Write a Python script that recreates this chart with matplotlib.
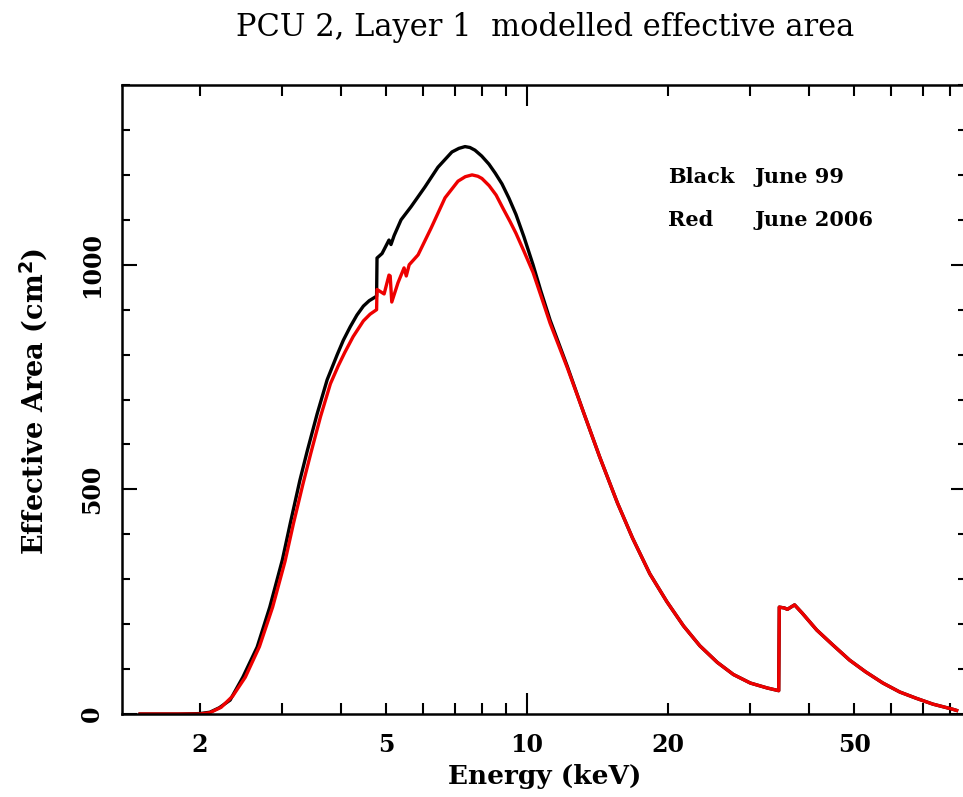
import numpy as np
import matplotlib
matplotlib.use("Agg")
import matplotlib.pyplot as plt

# ------------------------------
# Data (energy in keV, area in cm^2)
# ------------------------------
energy_99 = [1.49, 1.80, 2.00, 2.10, 2.20, 2.32, 2.47, 2.65, 2.82, 3.00, 3.12,
             3.27, 3.39, 3.56, 3.74, 3.93, 4.05, 4.19, 4.33, 4.47, 4.60, 4.77,
             4.78, 4.90, 5.07, 5.12, 5.20, 5.38, 5.65, 6.05, 6.45, 6.91, 7.15,
             7.37, 7.55, 7.74, 8.00, 8.29, 8.55, 8.84, 9.15, 9.47, 9.85, 10.3,
             10.7, 11.2, 12.2, 13.2, 14.3, 15.6, 16.8, 18.3, 19.9, 21.6, 23.4,
             25.5, 27.6, 30.0, 32.6, 34.5, 34.6, 35.5, 36.0, 37.3, 38.7, 41.6,
             45.0, 48.9, 52.9, 57.6, 62.6, 67.9, 73.7, 81.0, 82.8]
area_99 = [0, 0, 1, 4, 14, 31, 82, 149, 238, 343, 425,
           520, 585, 668, 744, 800, 832, 862, 888, 908, 920, 930,
           1015, 1025, 1055, 1045, 1065, 1100, 1129, 1173, 1217, 1251, 1259,
           1263, 1261, 1255, 1242, 1224, 1204, 1180, 1148, 1112, 1062, 1000,
           942, 877, 773, 672, 572, 470, 392, 312, 250, 196, 152,
           115, 88, 69, 58, 52, 238, 236, 233, 243, 225, 187,
           154, 120, 94, 69, 49, 35, 22, 11, 8]

energy_06 = [1.49, 1.80, 2.00, 2.10, 2.22, 2.35, 2.50, 2.68, 2.86, 3.04, 3.17,
             3.32, 3.45, 3.62, 3.80, 3.95, 4.08, 4.25, 4.47, 4.62, 4.77, 4.78,
             4.95, 5.07, 5.10, 5.14, 5.30, 5.46, 5.52, 5.60, 5.85, 6.24, 6.68,
             7.12, 7.38, 7.63, 7.85, 8.01, 8.30, 8.59, 8.90, 9.20, 9.47, 9.85,
             10.3, 10.7, 11.2, 12.2, 13.2, 14.3, 15.6, 16.8, 18.3, 19.9, 21.6,
             23.4, 25.5, 27.6, 30.0, 32.6, 34.5, 34.6, 35.5, 36.0, 37.3, 38.7,
             41.6, 45.0, 48.9, 52.9, 57.6, 62.6, 67.9, 73.7, 81.0, 82.8]
area_06 = [0, 0, 0, 3, 15, 40, 82, 150, 238, 340, 425,
           512, 580, 662, 735, 775, 805, 840, 875, 890, 900, 945,
           935, 977, 975, 917, 960, 993, 975, 1000, 1022, 1082, 1149,
           1186, 1196, 1200, 1197, 1192, 1176, 1155, 1124, 1096, 1070, 1030,
           983, 932, 870, 770, 672, 572, 470, 392, 312, 250, 196,
           152, 115, 88, 69, 58, 52, 238, 236, 233, 243, 225,
           187, 154, 120, 94, 69, 49, 35, 22, 11, 8]

major_x = [10]
minor_x = [2, 3, 4, 5, 6, 7, 8, 9, 20, 30, 40, 50, 60, 70, 80]
minor_x_labels = ["2", "", "", "5", "", "", "", "", "20", "", "", "50", "", "", ""]

# ------------------------------
# Figure
# ------------------------------
fig = plt.figure(figsize=(9.63, 7.97), dpi=100)
ax = fig.add_axes([0.1267, 0.1041, 0.8764, 0.7892])

ax.plot(energy_99, area_99, color="black", lw=2.4)
ax.plot(energy_06, area_06, color="#ee0000", lw=2.4)

ax.set_xscale("log")
ax.set_xlim(1.363, 86.7)
ax.set_ylim(0, 1400)

font = dict(family="DejaVu Serif", weight="bold")

ax.set_xticks(major_x, labels=["10"])
ax.set_xticks(minor_x, labels=minor_x_labels, minor=True)
ax.set_yticks([0, 500, 1000], labels=["0", "500", "1000"])
ax.set_yticks(np.arange(0, 1401, 100), minor=True)

for lab in ax.get_xticklabels(which="both"):
    lab.set_fontfamily("DejaVu Serif")
    lab.set_fontweight("bold")
    lab.set_fontsize(17)
for lab in ax.get_yticklabels():
    lab.set_fontfamily("DejaVu Serif")
    lab.set_fontweight("bold")
    lab.set_fontsize(17)
    lab.set_rotation(90)
    lab.set_va("center")

ax.tick_params(axis="both", which="both", direction="in", top=True, right=True,
               width=1.5, color="black")
ax.tick_params(axis="x", which="major", length=15, pad=14)
ax.tick_params(axis="x", which="minor", length=8, pad=14)
ax.tick_params(axis="y", which="major", length=11, pad=13)
ax.tick_params(axis="y", which="minor", length=6, pad=13)
for s in ax.spines.values():
    s.set_linewidth(1.8)

fig.text(0.566, 0.966, "PCU 2, Layer 1  modelled effective area",
         ha="center", va="center", fontsize=22, family="DejaVu Serif")
fig.text(0.566, 0.026, "Energy (keV)", ha="center", va="center", fontsize=19, **font)
fig.text(0.035, 0.497, "Effective Area (cm$^\\mathbf{2}$)", ha="center", va="center",
         rotation=90, fontsize=19.5, **font)

fig.text(0.694, 0.778, "Black", ha="left", va="center", fontsize=15, **font)
fig.text(0.784, 0.778, "June 99", ha="left", va="center", fontsize=15, **font)
fig.text(0.694, 0.724, "Red", ha="left", va="center", fontsize=15, **font)
fig.text(0.784, 0.724, "June 2006", ha="left", va="center", fontsize=15, **font)

fig.savefig("out.png", dpi=100)
